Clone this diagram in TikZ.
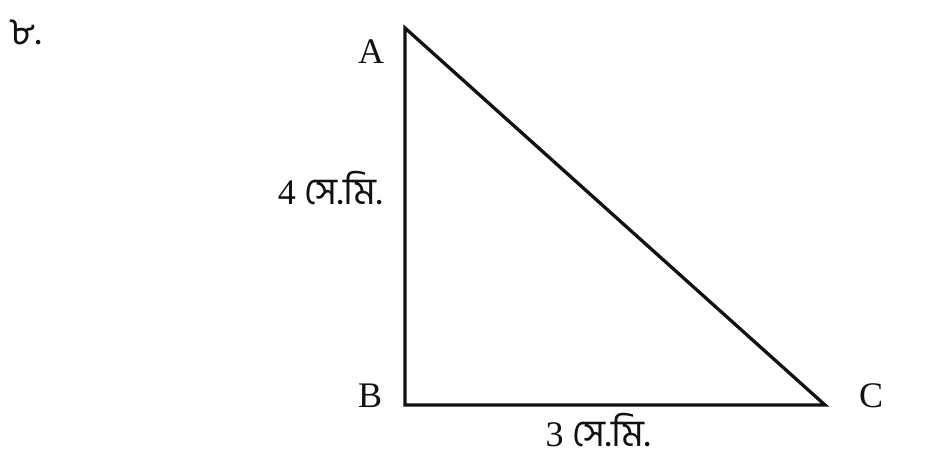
\documentclass[tikz,border=0pt]{standalone}
\usepackage{fontspec}
\setmainfont{Liberation Serif}
\newfontfamily\bangla[Script=Bengali,Scale=1.05]{Hind Siliguri}
\usepackage{tikz}
\usetikzlibrary{positioning,calc}
\definecolor{ink}{HTML}{111111}

\begin{document}
\begin{tikzpicture}[x=1pt,y=-1pt,line join=miter,every node/.style={font=\fontsize{36}{40}\selectfont,text=ink,inner sep=0pt}]
\useasboundingbox (0,0) rectangle (925,471);
\coordinate (A) at (405,28); \coordinate (B) at (405,405); \coordinate (C) at (825,405);
\draw[ink,line width=3.3pt] (A)--(B)--(C)--cycle;
\node (num) at (26,32) {\bangla ৮.};
\node (lA) at (371,52) {A};
\node (lB) at (370,396) {B};
\node (lC) at (871,396) {C};
\node[anchor=east] (lAB) at (383,188) {4 {\bangla সে.মি.}};
\node[below=8pt of $(B)!0.46!(C)$] (lBC) {3 {\bangla সে.মি.}};
\end{tikzpicture}
\end{document}
